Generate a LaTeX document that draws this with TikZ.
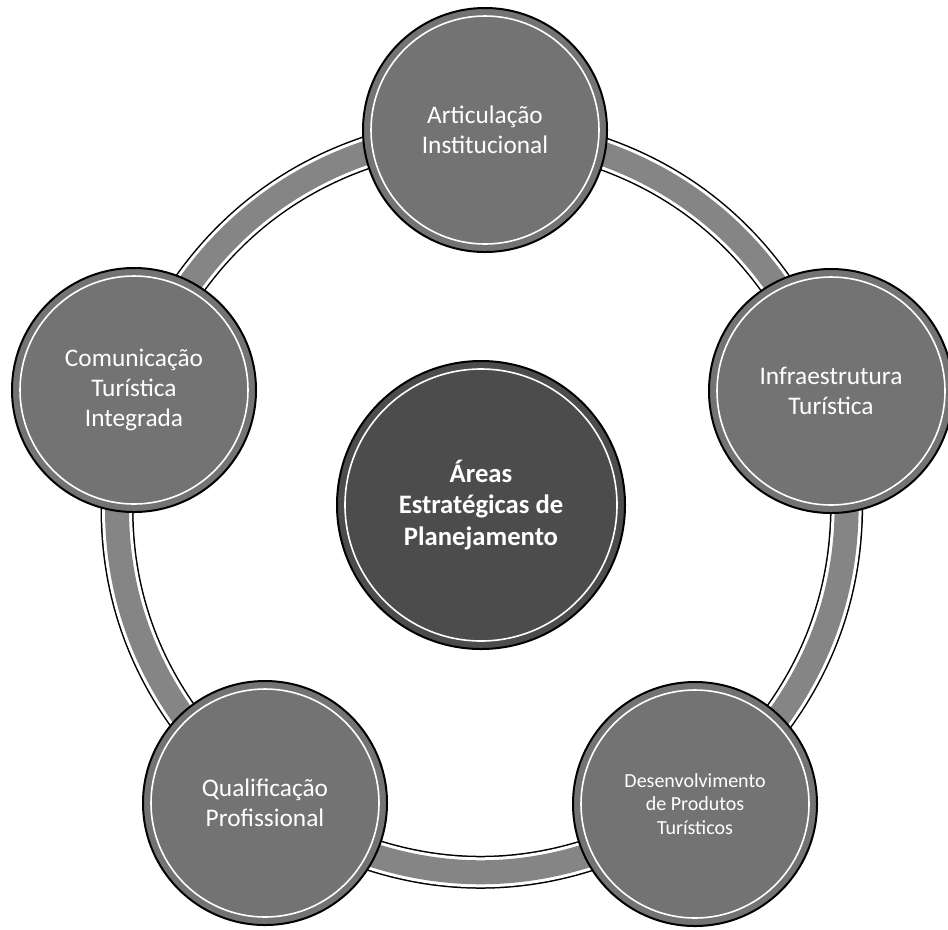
\documentclass[tikz,border=0pt]{standalone}
\usepackage{fontspec}
\setmainfont{Carlito}
\usetikzlibrary{backgrounds}

\begin{document}
\begin{tikzpicture}[x=0.75pt, y=-0.75pt,
    area/.style={circle, draw=black, line width=1.5pt, fill=black!55, minimum size=183pt,
      inner sep=0pt, align=center, text=white, font=\fontsize{19}{22.5}\selectfont},
    hub/.style={area, fill=black!70, minimum size=216pt, font=\bfseries\fontsize{20}{23.5}\selectfont},
    band/.style={draw=black, line width=24.75pt,
      postaction={draw=white, line width=22.5pt},
      postaction={draw=black!48, line width=18pt}},
    shine/.style={draw=white, line width=1.2pt}]
    \useasboundingbox (0,0) rectangle (948,929);

    % Five planning areas round the hub
    \node[area] (art) at (485,130) {Articulação\\Institucional};
    \node[area] (inf) at (831,391) {Infraestrutura\\Turística};
    \node[area, font=\fontsize{15}{17.5}\selectfont] (des) at (695,804) {Desenvolvimento\\de Produtos\\Turísticos};
    \node[area] (qua) at (265,803) {Qualificação\\Profissional};
    \node[area] (com) at (134,390) {Comunicação\\Turística\\Integrada};

    % Central circle
    \node[hub] (hub) at (481,505) {Áreas\\Estratégicas de\\Planejamento};

    % Ring joining the areas
    \begin{scope}[on background layer]
      \draw[band] (art.center) to[bend left=33] (inf.center)
        to[bend left=33] (des.center) to[bend left=33] (qua.center)
        to[bend left=33] (com.center) to[bend left=33] (art.center);
    \end{scope}

    % Light inner rims
    \foreach \n in {art,inf,des,qua,com}
      \draw[shine] (\n.center) circle[radius=114];
    \draw[shine] (hub.center) circle[radius=136];
  \end{tikzpicture}
\end{document}
